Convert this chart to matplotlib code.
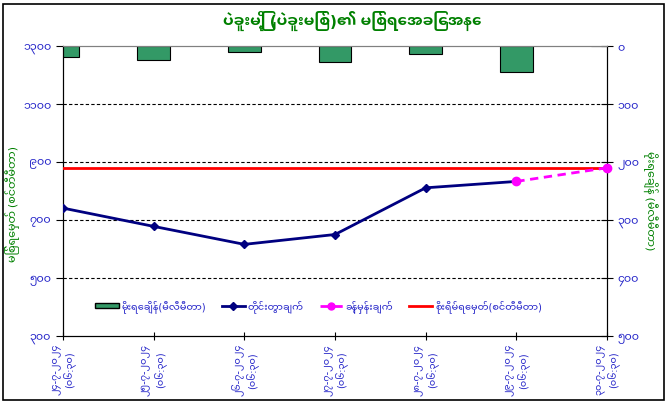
import matplotlib
matplotlib.use("Agg")
import matplotlib.pyplot as plt
import matplotlib.transforms as mtransforms
from matplotlib import font_manager, ft2font
from matplotlib.patches import Patch, Rectangle
from matplotlib.lines import Line2D

# Data
dates = ["၂၄-၇-၂၀၂၄", "၂၅-၇-၂၀၂၄", "၂၆-၇-၂၀၂၄", "၂၇-၇-၂၀၂၄",
         "၂၈-၇-၂၀၂၄", "၂၉-၇-၂၀၂၄", "၃၀-၇-၂၀၂၄"]
obs_time = "(၀၆:၃၀)"
rainfall = [19, 24, 10, 28, 14, 45, 0]           # mm, right axis (inverted)
observed = [741, 678, 616, 650, 811, 833]         # cm, measured water level
forecast_idx = [5, 6]
forecast = [833, 880]                             # cm, forecast
danger_level = 880                                # cm

title = "ပဲခူးမြို့ (ပဲခူးမြစ်)၏ မြစ်ရေအခြေအနေ"
left_label = "မြစ်ရေမှတ် (စင်တီမီတာ)"
right_label = "မိုးရေချိန် (မီလီမီတာ)"
legend_labels = ["မိုးရေချိန်(မီလီမီတာ)", "တိုင်းတွာချက်", "ခန့်မှန်းချက်", "စိုးရိမ်ရေမှတ်(စင်တီမီတာ)"]


# find an installed font that has Myanmar glyphs, prefer real Myanmar fonts
def find_myanmar_font():
    found = []
    for f in font_manager.fontManager.ttflist:
        try:
            ft = ft2font.FT2Font(f.fname)
            if ft.get_char_index(0x1000) and ft.get_char_index(0x1040):
                found.append(f.name)
        except Exception:
            continue
    for pref in ["Noto Sans Myanmar", "Padauk", "Myanmar"]:
        for name in found:
            if pref in name:
                return name
    return found[0] if found else None


mm_font = find_myanmar_font()
families = [mm_font, "DejaVu Sans"] if mm_font else ["DejaVu Sans"]
plt.rcParams["font.family"] = families

MM_DIGITS = str.maketrans("0123456789", "၀၁၂၃၄၅၆၇၈၉")


def to_mm(v, pos=None):
    return str(int(round(v))).translate(MM_DIGITS)


blue = "#2323C8"
green = "#008000"

fig = plt.figure(figsize=(6.69, 4.06), dpi=100)
ax = fig.add_axes([63 / 669, 1 - 337 / 406, 544 / 669, 290 / 406])

x = list(range(len(dates)))

# rainfall bars on the right (inverted) axis, drawn underneath
ax2 = ax.twinx()
ax2.set_facecolor("#CCFFFF")
ax2.bar(x, rainfall, width=0.36, color="#339966", edgecolor="black", linewidth=0.8, zorder=2)
ax2.set_ylim(500, 0)
ax2.set_yticks([0, 100, 200, 300, 400, 500])
ax2.yaxis.set_major_formatter(plt.FuncFormatter(to_mm))
ax2.set_zorder(0)
ax.set_zorder(1)
ax.patch.set_visible(False)

# water level lines
for yv in [500, 700, 900, 1100]:
    ax.axhline(yv, color="black", linestyle=(0, (3, 2)), linewidth=0.8, zorder=1)
ax.axhline(danger_level, color="red", linewidth=2, zorder=3)
ax.plot(x[:len(observed)], observed, color="#000080", linewidth=2, marker="D",
        markersize=4.5, zorder=4)
ax.plot(forecast_idx, forecast, color="#FF00FF", linewidth=2, linestyle=(0, (3, 2)),
        marker="o", markersize=6, zorder=5, clip_on=False)

ax.set_ylim(300, 1300)
ax.set_yticks([300, 500, 700, 900, 1100, 1300])
ax.yaxis.set_major_formatter(plt.FuncFormatter(to_mm))
ax.set_xlim(0, len(dates) - 1)
ax.set_xticks(x)
ax.set_xticklabels([d + "\n" + obs_time for d in dates], rotation=90,
                   va="top", ha="center", multialignment="center", linespacing=1.25)
shift = mtransforms.ScaledTranslation(-5 / 100, 0, fig.dpi_scale_trans)
for lab in ax.get_xticklabels():
    lab.set_transform(lab.get_transform() + shift)

ax.tick_params(axis="y", colors="black", labelcolor=blue, labelsize=8, direction="out", length=5)
ax.tick_params(axis="x", colors="black", labelcolor=blue, labelsize=7, direction="inout", length=6, pad=2)
ax2.tick_params(axis="y", colors="black", labelcolor=blue, labelsize=8, direction="inout", length=8)

for a in (ax, ax2):
    a.spines["top"].set_color("#808080")
    a.spines["left"].set_color("black")
    a.spines["right"].set_color("black")
    a.spines["bottom"].set_color("black")

ax.set_ylabel(left_label, color=green, fontsize=8)
ax.yaxis.set_label_coords((20 - 63) / 544, 0.46)
ax2.set_ylabel(right_label, color=green, fontsize=8, rotation=270, va="center")
ax2.yaxis.set_label_coords((650 - 63) / 544, 0.47)

fig.text(352 / 669, 1 - 21 / 406, title, color=green, fontsize=11, fontweight="bold",
         ha="center", va="center")

handles = [
    Patch(facecolor="#339966", edgecolor="black"),
    Line2D([], [], color="#000080", linewidth=2, marker="D", markersize=4.5),
    Line2D([], [], color="#FF00FF", linewidth=2, linestyle=(0, (3, 2)), marker="o", markersize=5),
    Line2D([], [], color="red", linewidth=2),
]
ax.legend(handles, legend_labels, loc="center", bbox_to_anchor=(0.47, 0.105), ncol=4,
          frameon=False, fontsize=7, labelcolor=blue, handlelength=2.4, handleheight=0.5,
          columnspacing=1.6, handletextpad=0.3)

# outer chart border
fig.patches.append(Rectangle((3 / 669, 1 - 401 / 406), 661 / 669, 396 / 406,
                             transform=fig.transFigure, facecolor="none",
                             edgecolor="black", linewidth=1.2))

fig.savefig("out.png", dpi=100)
